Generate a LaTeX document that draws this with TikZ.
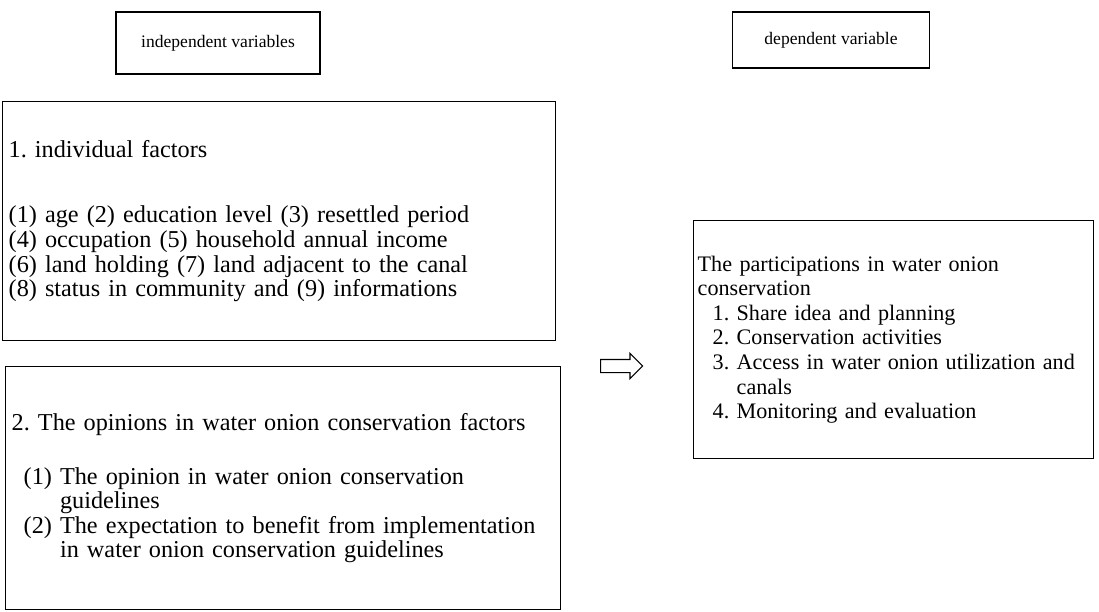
\documentclass[tikz,border=0pt]{standalone}
\usepackage{fontspec}
\setmainfont{Liberation Serif}
\usetikzlibrary{positioning, shapes.arrows}

\newcommand{\bodysize}{\fontsize{13.8}{14}\selectfont}
\newcommand{\rightsize}{\fontsize{12.6}{14}\selectfont}
\newcommand{\headsize}{\fontsize{10}{12}\selectfont}
\frenchspacing

\begin{document}
\begin{tikzpicture}[
    x=0.02cm, y=-0.02cm,
    every node/.style={font=\bodysize},
    headbox/.style={draw, line width=0.8pt, inner sep=0pt, font=\headsize},
    factorbox/.style={draw, line width=0.8pt, align=left, anchor=north west, inner xsep=0.12cm, inner ysep=0pt},
    flowarrow/.style={single arrow, draw, line width=0.6pt, fill=white, minimum height=0.84cm, inner xsep=0pt, inner ysep=0.12cm, single arrow head extend=0.12cm}
]
    \useasboundingbox (0,0) rectangle (1099,612);

    % headings
    \node[headbox, minimum width=4.08cm, minimum height=1.24cm] (indep) at (218,43) {independent variables};
    \node[headbox, minimum width=3.94cm, minimum height=1.12cm] (dep) at (831,40) {dependent variable};

    % independent variables
    \node[factorbox, text width=10.82cm, minimum height=4.78cm] (indiv) at (2,101) {1. individual factors\\[0.82cm]
        (1) age (2) education level (3) resettled period\\
        (4) occupation (5) household annual income\\
        (6) land holding (7) land adjacent to the canal\\
        (8) status in community and (9) informations};
    \node[factorbox, text width=10.86cm, minimum height=4.86cm] (opinion) at (5,366) {2. The opinions in water onion conservation factors\\[0.58cm]
        \hspace*{0.24cm}(1) The opinion in water onion conservation\\
        \hspace*{0.24cm}\hphantom{(1) }guidelines\\
        \hspace*{0.24cm}(2) The expectation to benefit from implementation\\
        \hspace*{0.24cm}\hphantom{(1) }in water onion conservation guidelines};

    % dependent variable
    \node[factorbox, text width=7.84cm, minimum height=4.76cm, inner xsep=0.08cm, font=\rightsize] (particip) at (693,220) {The participations in water onion\\
        conservation\\
        \hspace*{0.3cm}1. Share idea and planning\\
        \hspace*{0.3cm}2. Conservation activities\\
        \hspace*{0.3cm}3. Access in water onion utilization and\\
        \hspace*{0.3cm}\hphantom{3. }canals\\
        \hspace*{0.3cm}4. Monitoring and evaluation};

    \node[flowarrow, anchor=tail] (flow) at (600,366) {};
\end{tikzpicture}
\end{document}
